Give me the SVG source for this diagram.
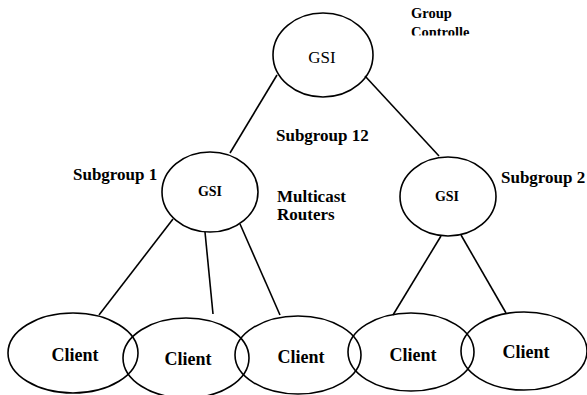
<svg xmlns="http://www.w3.org/2000/svg" width="587" height="395" viewBox="0 0 587 395" font-family="'Liberation Serif', 'DejaVu Serif', serif">
<style>
.n{fill:none;stroke:#000;stroke-width:1.6}
.c line{stroke:#000;stroke-width:1.6}
text{fill:#000}
.b{font-weight:bold}
.lbl{font-weight:bold;font-size:17px}
.cl{font-weight:bold;font-size:18px;text-anchor:middle}
</style>
<defs>
<clipPath id="clipCtl"><rect x="400" y="0" width="187" height="35.5"/></clipPath>
</defs>
<rect width="587" height="395" fill="#fff"/>
<g id="connectors" class="c">
<line x1="277" y1="75" x2="230" y2="153"/>
<line x1="365" y1="76" x2="439" y2="156"/>
<line x1="173" y1="219" x2="99" y2="315"/>
<line x1="205" y1="232" x2="213" y2="314"/>
<line x1="240" y1="224" x2="280" y2="315"/>
<line x1="441" y1="236" x2="393" y2="315"/>
<line x1="461" y1="235" x2="506" y2="313"/>
</g>
<g id="gsi-top"><ellipse class="n" cx="323" cy="55" rx="50" ry="42"/><text x="322" y="63" font-size="17" text-anchor="middle">GSI</text></g>
<g id="gsi-left"><ellipse class="n" cx="210" cy="192" rx="48" ry="40"/><text class="b" x="210" y="196" font-size="14" text-anchor="middle">GSI</text></g>
<g id="gsi-right"><ellipse class="n" cx="448" cy="196.5" rx="48" ry="39.5"/><text class="b" x="447" y="201" font-size="14" text-anchor="middle">GSI</text></g>
<g id="client1"><ellipse class="n" cx="73" cy="353" rx="65" ry="40"/><text class="cl" x="75" y="361">Client</text></g>
<g id="client2"><ellipse class="n" cx="186" cy="358" rx="63" ry="40"/><text class="cl" x="188" y="365">Client</text></g>
<g id="client3"><ellipse class="n" cx="298" cy="355" rx="63" ry="39"/><text class="cl" x="301" y="363">Client</text></g>
<g id="client4"><ellipse class="n" cx="411" cy="352" rx="63" ry="39"/><text class="cl" x="413" y="361">Client</text></g>
<g id="client5"><ellipse class="n" cx="524" cy="351" rx="63" ry="39"/><text class="cl" x="526" y="358">Client</text></g>
<g id="labels">
<text class="b" x="411" y="18" font-size="14.5">Group</text>
<text class="b" x="411" y="37" font-size="14.5" clip-path="url(#clipCtl)">Controlle</text>
<text class="lbl" x="276" y="141">Subgroup 12</text>
<text class="lbl" x="73" y="180">Subgroup 1</text>
<text class="lbl" x="277" y="202">Multicast</text>
<text class="lbl" x="277" y="220">Routers</text>
<text class="lbl" x="501" y="183">Subgroup 2</text>
</g>
</svg>
